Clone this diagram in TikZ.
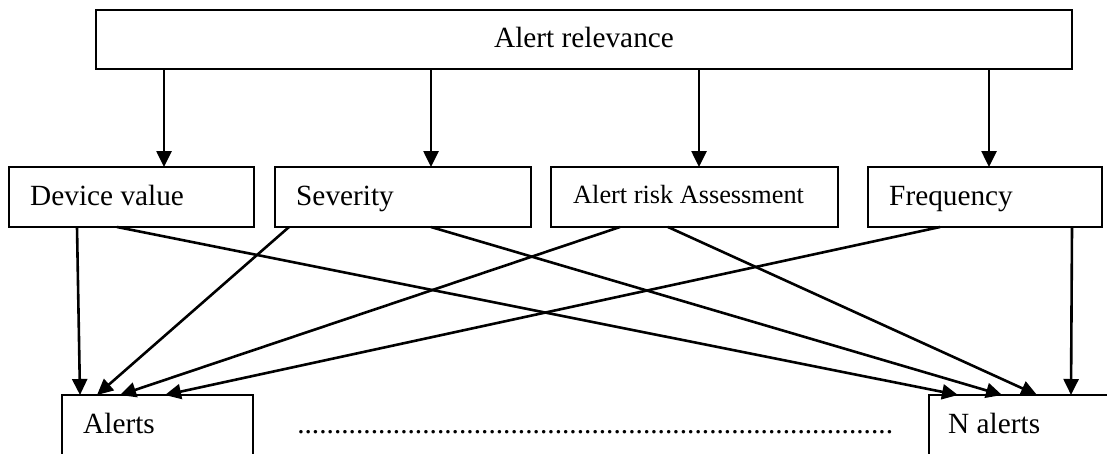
\documentclass[tikz,border=0pt]{standalone}
\usepackage{fontspec}
\setmainfont{Liberation Serif}
\usetikzlibrary{arrows.meta,calc}

\tikzset{
  box/.style={draw, rectangle, inner sep=0pt, outer sep=0pt, line width=2.6pt},
  lbl/.style={inner sep=0pt, anchor=base west, font=\fontsize{29.3}{35}\selectfont},
  link/.style={line width=2.6pt, -{Triangle[length=16pt,width=15pt]}}
}

\begin{document}
\begin{tikzpicture}[x=1pt,y=-1pt]
\useasboundingbox (0,0) rectangle (1107,453);
\clip (0,0) rectangle (1107,453);

% boxes
\node[box, minimum width=976pt, minimum height=59pt] (top) at (584,39.5) {};
\node[box, minimum width=245pt, minimum height=60pt] (dev) at (131.5,197) {};
\node[box, minimum width=256pt, minimum height=60pt] (sev) at (403,197) {};
\node[box, minimum width=287pt, minimum height=60pt] (risk) at (694.5,197) {};
\node[box, minimum width=234pt, minimum height=60pt] (freq) at (985,197) {};
\node[box, minimum width=191pt, minimum height=90pt] (alerts) at (157.5,440) {};
\node[box, minimum width=220pt, minimum height=90pt] (nalerts) at (1039,440) {};

% labels
\node[lbl, anchor=base] (ttop) at (584,47) {Alert relevance};
\node[lbl] (tdev) at (30,205) {Device value};
\node[lbl] (tsev) at (296,205) {Severity};
\node[lbl, font=\fontsize{26.3}{32}\selectfont] (trisk) at (573,203) {Alert risk Assessment};
\node[lbl] (tfreq) at (889,205) {Frequency};
\node[lbl] (talerts) at (83,433) {Alerts};
\node[lbl] (tnalerts) at (948,433) {N alerts};
\node[lbl] (dots) at (297,433) {\hbox to 596pt{\xleaders\hbox to 7.27pt{\hss.\hss}\hfill}};

% top level to criteria
\draw[link] ($(top.south west)+(68,0)$) -- ($(dev.north west)+(155,0)$);
\draw[link] ($(top.south west)+(335,0)$) -- ($(sev.north west)+(156,0)$);
\draw[link] ($(top.south west)+(603,0)$) -- ($(risk.north west)+(148,0)$);
\draw[link] ($(top.south west)+(893,0)$) -- ($(freq.north west)+(121,0)$);

% criteria to first alert group
\draw[link] ($(dev.south west)+(68,0)$) -- ($(alerts.north west)+(18,0)$);
\draw[link] ($(sev.south west)+(14,0)$) -- ($(alerts.north west)+(35,0)$);
\draw[link] ($(risk.south west)+(69,0)$) -- ($(alerts.north west)+(58,0)$);
\draw[link] ($(freq.south west)+(72,0)$) -- ($(alerts.north west)+(103,0)$);

% criteria to last alert group
\draw[link] ($(dev.south west)+(108,0)$) -- ($(nalerts.north west)+(29,0)$);
\draw[link] ($(sev.south west)+(156,0)$) -- ($(nalerts.north west)+(73,0)$);
\draw[link] ($(risk.south west)+(117,0)$) -- ($(nalerts.north west)+(108,0)$);
\draw[link] ($(freq.south west)+(204,0)$) -- ($(nalerts.north west)+(142,0)$);
\end{tikzpicture}
\end{document}
